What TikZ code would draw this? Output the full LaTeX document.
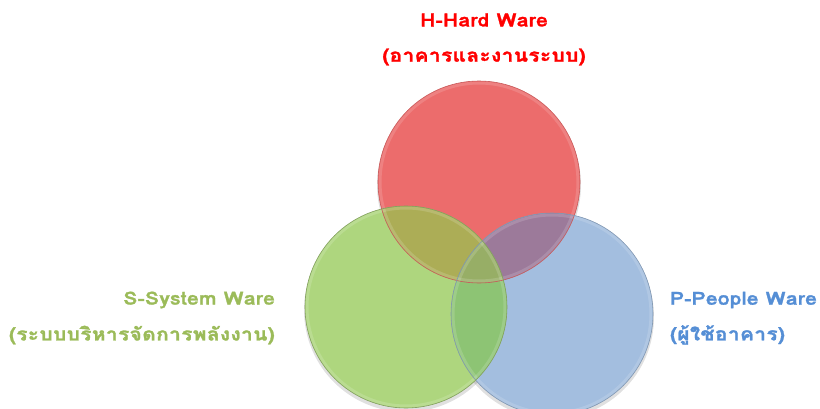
\documentclass[tikz,border=0pt]{standalone}
\usepackage{fontspec}
\newfontfamily\thaifont[Script=Thai,FakeStretch=1.16,LetterSpace=2,FakeBold=1.5]{Loma}
\usetikzlibrary{positioning}
\definecolor{cred}{HTML}{EC6C6C}
\definecolor{cgreen}{HTML}{AED67E}
\definecolor{cblue}{HTML}{A3BEDF}
\definecolor{crg}{HTML}{ACAD56}
\definecolor{crb}{HTML}{9C7A9A}
\definecolor{cgb}{HTML}{8DC474}
\definecolor{crgb}{HTML}{97AE66}
\definecolor{tred}{HTML}{FF0000}
\definecolor{tgreen}{HTML}{9BBB59}
\definecolor{tblue}{HTML}{558ED5}
\tikzset{
  x=1pt,y=1pt,
  ball/.style={circle,minimum size=202pt,inner sep=0pt},
  lbl/.style={font=\thaifont\bfseries\fontsize{18}{21}\selectfont,inner sep=0pt},
}
\begin{document}
\begin{tikzpicture}
\useasboundingbox (0,0) rectangle (820,408);
% circle nodes
\node[ball] (R) at (479,226) {};
\node[ball] (B) at (552,94) {};
\node[ball] (G) at (406,101) {};
% shadows
\foreach \c in {R,B,G}{
  \fill[black,opacity=0.12] ([yshift=-3pt]\c.center) circle (102pt);
}
% base fills
\fill[cred] (R.center) circle (101pt);
\fill[cblue] (B.center) circle (101pt);
\fill[cgreen] (G.center) circle (101pt);
% overlaps
\begin{scope}
  \clip (R.center) circle (101pt);
  \fill[crg] (G.center) circle (101pt);
\end{scope}
\begin{scope}
  \clip (R.center) circle (101pt);
  \fill[crb] (B.center) circle (101pt);
\end{scope}
\begin{scope}
  \clip (G.center) circle (101pt);
  \fill[cgb] (B.center) circle (101pt);
\end{scope}
\begin{scope}
  \clip (G.center) circle (101pt);
  \clip (R.center) circle (101pt);
  \fill[crgb] (B.center) circle (101pt);
\end{scope}
% bevel rims
\foreach \c in {R,B,G}{
  \draw[white,opacity=0.15,line width=3pt] (\c.center) circle (99pt);
}
% outlines
\draw[cred!85!black,line width=0.6pt] (R.center) circle (101pt);
\draw[cblue!80!black,line width=0.6pt] (B.center) circle (101pt);
\draw[cgreen!75!black,line width=0.6pt] (G.center) circle (101pt);
% labels
\node[lbl,text=tred] (h1) at (484,388) {H-Hard Ware};
\node[lbl,text=tred] (h2) at (484,351) {(อาคารและงานระบบ)};
\node[lbl,text=tgreen,anchor=east] (s1) at (275,108) {S-System Ware};
\node[lbl,text=tgreen,anchor=east] (s2) at (275,73) {(ระบบบริหารจัดการพลังงาน)};
\node[lbl,text=tblue,anchor=east] (p1) at (817,108) {P-People Ware};
\node[lbl,text=tblue,anchor=west] (p2) at (p1.west |- 0,73) {(ผู้ใช้อาคาร)};
\end{tikzpicture}
\end{document}
